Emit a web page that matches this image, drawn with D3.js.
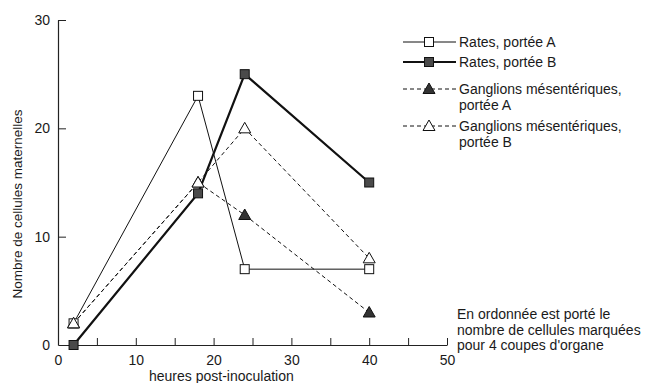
<!DOCTYPE html>
<html>
<head>
<meta charset="utf-8">
<script src="https://cdn.jsdelivr.net/npm/d3@7"></script>
<style>
body { margin: 0; background: #fff; }
text { font-family: "Liberation Sans", Arial, sans-serif; fill: #1a1a1a; }
</style>
</head>
<body>
<div id="chart"></div>
<script>
// hours post-inoculation
var hours = [2, 18, 24, 40];
var ratesA = [2, 23, 7, 7];
var ratesB = [0, 14, 25, 15];
var gangA = [2, 15, 12, 3];
var gangB = [2, 15, 20, 8];
var xTicks = [0, 10, 20, 30, 40, 50];
var yTicks = [0, 10, 20, 30];

var seriesNames = ["Rates, portée A", "Rates, portée B", "Ganglions mésentériques,|portée A", "Ganglions mésentériques,|portée B"];

var margin = {top: 20, left: 58},
    width = 389, height = 325;

var svg = d3.select("#chart").append("svg")
  .attr("width", 649).attr("height", 383);

var g = svg.append("g")
  .attr("transform", "translate(" + margin.left + "," + margin.top + ")");

var x = d3.scaleLinear().domain([0, 50]).range([0, width]);
var y = d3.scaleLinear().domain([0, 30]).range([height, 0]);

// axes
var xAxis = d3.axisBottom(x).tickValues(d3.range(0, 55, 5)).tickSizeInner(-7).tickSizeOuter(0)
  .tickFormat(function(d) { return xTicks.indexOf(d) >= 0 ? d : ""; });
var gx = g.append("g").attr("transform", "translate(0," + height + ")").call(xAxis);
gx.select(".domain").attr("stroke", "#222").attr("stroke-width", 1.2);
gx.selectAll(".tick line").attr("stroke", "#222");
gx.selectAll("text").attr("dy", "0").attr("y", 20).style("font-size", "14px");

var yAxis = d3.axisLeft(y).tickValues(yTicks).tickSizeInner(-8).tickSizeOuter(0);
var gy = g.append("g").call(yAxis);
gy.select(".domain").attr("stroke", "#222").attr("stroke-width", 1.2);
gy.selectAll(".tick line").attr("stroke", "#222");
gy.selectAll("text").attr("x", -8).style("font-size", "14px");
gy.selectAll(".tick").filter(function(d) { return d === 0; }).select("line").remove();

g.append("text")
  .attr("x", x(21)).attr("y", height + 36)
  .attr("text-anchor", "middle").style("font-size", "14px")
  .text("heures post-inoculation");

svg.append("text")
  .attr("transform", "translate(22,204) rotate(-90)")
  .attr("text-anchor", "middle").style("font-size", "13.5px")
  .text("Nombre de cellules maternelles");

// series
var series = [
  {vals: ratesA, width: 1, dash: null, marker: "square", fill: "#fff"},
  {vals: ratesB, width: 2.2, dash: null, marker: "square", fill: "#4a4a4a"},
  {vals: gangA, width: 1, dash: "4,3", marker: "triangle", fill: "#333"},
  {vals: gangB, width: 1, dash: "4,3", marker: "triangle", fill: "#fff"}
];

var line = d3.line()
  .x(function(d, i) { return x(hours[i]); })
  .y(function(d) { return y(d); });

function drawMarker(sel, s, cx, cy) {
  if (s.marker === "square") {
    sel.append("rect")
      .attr("x", cx - 4.5).attr("y", cy - 4.5).attr("width", 9).attr("height", 9)
      .attr("fill", s.fill).attr("stroke", "#111").attr("stroke-width", 1);
  } else {
    sel.append("path")
      .attr("d", "M" + cx + "," + (cy - 6) + "L" + (cx + 6) + "," + (cy + 4.5) + "L" + (cx - 6) + "," + (cy + 4.5) + "Z")
      .attr("fill", s.fill).attr("stroke", "#111").attr("stroke-width", 1);
  }
}

series.forEach(function(s) {
  g.append("path")
    .datum(s.vals)
    .attr("d", line)
    .attr("fill", "none")
    .attr("stroke", "#111")
    .attr("stroke-width", s.width)
    .attr("stroke-dasharray", s.dash);
});

// markers (filled triangle first so open triangle sits on top at the shared start)
[2, 0, 3, 1].forEach(function(k) {
  var s = series[k];
  s.vals.forEach(function(v, i) {
    drawMarker(g, s, x(hours[i]), y(v));
  });
});

// legend
var legendY = [42, 62, 89, 126];
var legend = svg.selectAll(".legend")
  .data(series)
  .enter().append("g")
  .attr("class", "legend")
  .attr("transform", function(d, i) { return "translate(0," + legendY[i] + ")"; });

legend.append("line")
  .attr("x1", 403).attr("x2", 456).attr("y1", 0).attr("y2", 0)
  .attr("stroke", "#111")
  .attr("stroke-width", function(d) { return d.width; })
  .attr("stroke-dasharray", function(d) { return d.dash; });

legend.each(function(d) { drawMarker(d3.select(this), d, 429, 0); });

legend.append("text")
  .attr("x", 459).attr("y", 5)
  .style("font-size", "14px")
  .each(function(d, i) {
    var parts = seriesNames[i].split("|");
    var t = d3.select(this);
    parts.forEach(function(p, j) {
      t.append("tspan").attr("x", 459).attr("dy", j === 0 ? 0 : 16).text(p);
    });
  });

// note
var note = ["En ordonnée est porté le", "nombre de cellules marquées", "pour 4 coupes d'organe"];
svg.append("text")
  .attr("x", 457).attr("y", 319)
  .style("font-size", "14px")
  .selectAll("tspan").data(note).enter().append("tspan")
  .attr("x", 457).attr("dy", function(d, i) { return i === 0 ? 0 : 15.5; })
  .text(function(d) { return d; });
</script>
</body>
</html>
